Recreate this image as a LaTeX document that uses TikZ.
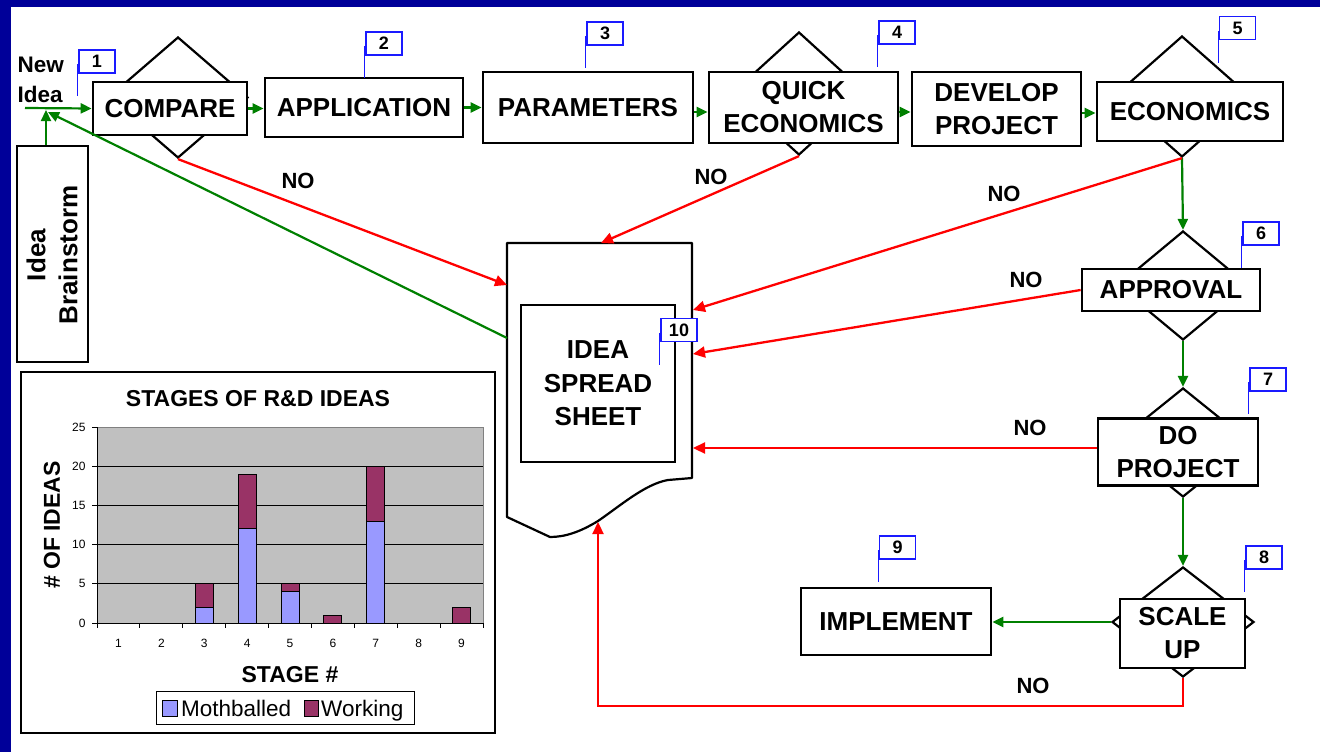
\documentclass[tikz,border=0pt]{standalone}
\usepackage{fontspec}
\setmainfont{Liberation Sans}
\usetikzlibrary{arrows.meta,shapes.geometric,calc}
\definecolor{navy}{HTML}{000099}
\definecolor{fgreen}{HTML}{008000}
\definecolor{fred}{HTML}{FF0000}
\definecolor{fblue}{HTML}{1A1AFF}
\definecolor{moth}{HTML}{9999FF}
\definecolor{work}{HTML}{993366}
\definecolor{plotgray}{HTML}{C0C0C0}
\newcommand\flagat[3]{%
  \node[flagbox] (#1) at (#2) {#3};
  \draw[pole] ([xshift=-0.6pt,yshift=-15pt]#1.north west) -- ++(0,32);}
\begin{document}
\begin{tikzpicture}[x=1pt,y=-1pt,
  box/.style={draw=black, line width=2.7pt, fill=white, inner sep=0pt, align=center,
    font=\bfseries\fontsize{26}{33}\selectfont},
  dia/.style={draw=black, line width=2.2pt, fill=white, shape=diamond, inner sep=0pt},
  flagbox/.style={draw=fblue, line width=1.3pt, fill=white, minimum width=36pt,
    minimum height=23pt, inner sep=0pt, font=\bfseries\fontsize{18}{18}\selectfont},
  pole/.style={draw=fblue, line width=1.3pt},
  gar/.style={draw=fgreen, line width=2.2pt, -{Triangle[length=11pt,width=10pt]}},
  rar/.style={draw=fred, line width=2.3pt, -{Triangle[length=12pt,width=11pt]}},
  nolab/.style={font=\bfseries\fontsize{22}{22}\selectfont},
  tick/.style={font=\fontsize{12}{12}\selectfont},
  clab/.style={font=\bfseries\fontsize{23}{23}\selectfont},
]
\useasboundingbox (0,0) rectangle (1320,752);
\fill[navy] (0,0) rectangle (1320,752);
\fill[white] (11,7) rectangle (1320,752);

% diamonds
\node[dia, minimum width=140, minimum height=121] (d1) at (178,97.5) {};
\node[dia, minimum width=135, minimum height=123] (d4) at (799,93.5) {};
\node[dia, minimum width=137, minimum height=121] (d5) at (1182,96.5) {};
\node[dia, minimum width=131, minimum height=109] (d6) at (1183,285.5) {};
\node[dia, minimum width=135, minimum height=109] (d7) at (1183,442.5) {};
\node[dia, minimum width=142, minimum height=110] (d8) at (1183,622) {};

% boxes
\node[box, minimum width=154, minimum height=53] (cmp) at (170,108.5) {COMPARE};
\node[box, minimum width=198, minimum height=59] (app) at (364,107.5) {APPLICATION};
\node[box, minimum width=210, minimum height=71] (par) at (588,107.5) {PARAMETERS};
\node[box, minimum width=189, minimum height=71] (qe) at (803.5,107.5) {QUICK\\ECONOMICS};
\node[box, minimum width=169, minimum height=74] (dev) at (996.5,109) {DEVELOP\\PROJECT};
\node[box, minimum width=186, minimum height=59] (eco) at (1190,111.5) {ECONOMICS};
\node[box, minimum width=178, minimum height=42] (appr) at (1171,290) {APPROVAL};
\node[box, minimum width=160, minimum height=67] (dop) at (1178,452) {DO\\PROJECT};
\node[box, minimum width=125, minimum height=69] (scl) at (1182.5,633.5) {SCALE\\UP};
\node[box, minimum width=190, minimum height=67] (imp) at (896,621.5) {IMPLEMENT};

% idea brainstorm
\node[draw=black, line width=1.3pt, minimum width=71, minimum height=216, inner sep=0pt] (bs) at (52.5,254) {};
\node[rotate=90, align=center, font=\bfseries\fontsize{26}{32}\selectfont] (bst) at (52,255) {Idea\\Brainstorm};
\node[align=left, anchor=west, font=\bfseries\fontsize{22.5}{30}\selectfont] (newidea) at (14,80) {New\\Idea};

% spreadsheet
\draw[line width=2.2pt, line join=round] (507,243) -- (692,243) -- (692,478) -- (668,480)
  .. controls (645,484) and (620,506) .. (598,521)
  .. controls (580,532) and (565,537) .. (550,537) -- (507,517) -- cycle;
\node[box, minimum width=154, minimum height=157, font=\bfseries\fontsize{26}{33.5}\selectfont] (sheet) at (598,383.5) {IDEA\\SPREAD\\SHEET};
\coordinate (ssL1) at (507,285);
\coordinate (ssL2) at (507,338);
\coordinate (ssT) at (601,243);
\coordinate (ssR1) at (693,310);
\coordinate (ssR2) at (693,354);
\coordinate (ssR3) at (693,448);
\coordinate (ssB) at (598,522);
\coordinate (nob) at (598,706);
\coordinate (ni) at (25,108);
\coordinate (join) at (46,110);
\coordinate (join2) at (48,112);

% flags
\flagat{f1}{97,61.5}{1}
\flagat{f2}{384,43.5}{2}
\flagat{f3}{605,33.5}{3}
\flagat{f4}{897,32.5}{4}
\flagat{f5}{1237.5,28}{5}
\flagat{f6}{1261,233.5}{6}
\flagat{f7}{1268,379.5}{7}
\flagat{f8}{1264,557.5}{8}
\flagat{f9}{897.5,547.5}{9}
\flagat{f10}{679,330}{10}

% green connectors
\draw[gar] (ni) -- (cmp.west);
\draw[gar] (cmp.east) -- (app.west |- cmp.east);
\draw[gar] (app.east) -- (par.west);
\draw[gar] (par.east |- 0,112) -- (qe.west |- 0,112);
\draw[gar] (qe.east |- 0,112) -- (dev.west |- 0,112);
\draw[gar] (dev.east |- 0,113) -- (eco.west |- 0,113);
\draw[gar] (d5.south) -- (d6.north);
\draw[gar] (d6.south) -- (d7.north);
\draw[gar] (d7.south) -- (d8.north);
\draw[gar] (d8.west) -- (imp.east |- d8.west);
\draw[gar] (join |- bs.north) -- (join);
\draw[gar] (ssL2) -- (join2);

% red connectors
\draw[rar] (d1.south) -- (ssL1);
\draw[rar] (d4.south) -- (ssT);
\draw[rar] (d5.south) -- (ssR1);
\draw[rar] (appr.west) -- (ssR2);
\draw[rar] (dop.west |- ssR3) -- (ssR3);
\draw[rar] (d8.south) |- (nob) -- (ssB);

% NO labels
\node[nolab] (no1) at (298,181) {NO};
\node[nolab] (no2) at (711,177) {NO};
\node[nolab] (no3) at (1004,194) {NO};
\node[nolab] (no4) at (1026,280) {NO};
\node[nolab] (no5) at (1030,428) {NO};
\node[nolab] (no6) at (1033,686) {NO};

% chart
\node[draw=black, line width=1.2pt, minimum width=474, minimum height=361, inner sep=0pt] (chart) at (258,552.5) {};
\fill[plotgray] (97,427) rectangle (483,623);
\draw[gray, line width=1pt] (97,427) -- (483,427) -- (483,623);
\foreach \v in {5,10,15,20} \draw[line width=0.8pt] (97,{623-\v*7.84}) -- (483,{623-\v*7.84});
\foreach \v in {0,5,...,25} {
  \draw[line width=0.8pt] (92,{623-\v*7.84}) -- (97,{623-\v*7.84});
  \node[tick, anchor=east] (yl\v) at (89,{623-\v*7.84}) {\v};
}
\foreach \i in {0,...,9} \draw[line width=0.8pt] ({97+\i*42.89},623) -- ({97+\i*42.89},628);
\foreach \i in {1,...,9} \node[tick] (xl\i) at ({97+(\i-0.5)*42.89},643) {\i};
\foreach \i/\m/\w in {3/2/3,4/12/7,5/4/1,6/0/1,7/13/7,9/0/2} {
  \pgfmathsetmacro\xl{97+(\i-0.5)*42.89-9}
  \pgfmathsetmacro\ym{623-\m*7.84}
  \pgfmathsetmacro\yw{623-(\m+\w)*7.84}
  \ifnum\m>0 \draw[fill=moth, line width=1pt] (\xl,623) rectangle ({\xl+18},\ym); \fi
  \draw[fill=work, line width=1pt] (\xl,\ym) rectangle ({\xl+18},\yw);
}
\draw[line width=1pt] (97,427) -- (97,623) -- (483,623);
\node[clab] (ctitle) at (258,399) {STAGES OF R\&D IDEAS};
\node[clab, rotate=90] (cyl) at (52,525) {\# OF IDEAS};
\node[clab] (cxl) at (290,675) {STAGE \#};
\node[draw=black, line width=1pt, minimum width=258, minimum height=33, inner sep=0pt] (leg) at (285,707.5) {};
\draw[fill=moth, line width=1pt] (162,700) rectangle (177,716);
\node[anchor=base west, inner sep=0pt, font=\fontsize{22.5}{22.5}\selectfont] (lm) at (181,716) {Mothballed};
\draw[fill=work, line width=1pt] (304,700) rectangle (318,716);
\node[anchor=base west, inner sep=0pt, font=\fontsize{22.5}{22.5}\selectfont] (lw) at (321,716) {Working};
\end{tikzpicture}
\end{document}
